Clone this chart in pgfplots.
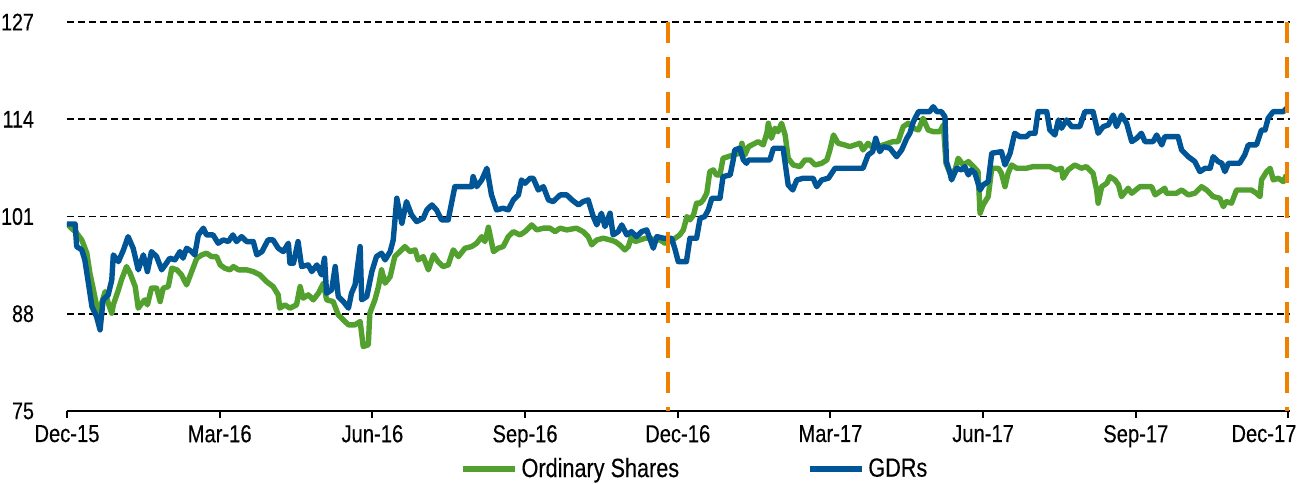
\documentclass[border=0pt]{standalone}
\usepackage{fontspec}
\setmainfont{Liberation Sans}[FakeStretch=0.82, FakeBold=0.3]
\usepackage{pgfplots}
\pgfplotsset{compat=1.18}
\definecolor{ordgreen}{RGB}{82,160,46}
\definecolor{gdrblue}{RGB}{0,85,150}
\definecolor{vorange}{RGB}{242,128,0}
\begin{document}
\begin{tikzpicture}
\useasboundingbox (-33.5pt,-36pt) rectangle (616pt,205.5pt);
\begin{axis}[
  scale only axis, width=611.5pt, height=194.5pt,
  xmin=0, xmax=24.03, ymin=75, ymax=127,
  axis x line*=bottom, axis y line*=left,
  y axis line style={draw=none},
  x axis line style={line width=1pt, black},
  xtick={0,3,...,24},
  xticklabels={Dec-15,Mar-16,Jun-16,Sep-16,Dec-16,Mar-17,Jun-17,Sep-17,{\hbox to 0pt{\hss Dec-17\kern-4pt}}},
  ytick={75,88,101,114,127},
  ytick style={draw=none},
  xtick style={black, line width=1pt},
  major tick length=3.5pt,
  tick align=outside,
  ymajorgrids,
  grid style={black, line width=0.9pt, dash pattern=on 3.5pt off 2pt},
  tick label style={font=\fontsize{12.3}{14}\selectfont, text=black},
  yticklabel style={font=\fontsize{12}{14}\selectfont, xshift=-9.5pt},
  /pgf/number format/assume math mode=true,
  legend columns=2,
  legend style={at={(axis description cs:0.3213,0)}, anchor=west, yshift=-29pt,
    draw=none, fill=none, inner sep=0pt,
    font=\fontsize{13.2}{15}\selectfont,
    /tikz/every even column/.append style={column sep=62pt}},
  legend image code/.code={\draw[#1, line width=2.6pt] (-2pt,0pt) -- (24pt,0pt);},
  every axis plot/.append style={line width=2.7pt, line join=round},
]
\addplot[ordgreen] coordinates {
(0,100) (0.19,98.77) (0.29,97.87) (0.39,96.10) (0.45,93.42) (0.52,91.19) (0.61,88.08) (0.68,89.42) (0.75,90.97) (0.81,89.42) (0.88,88.08) (0.91,89.19) (1.01,91.19) (1.07,92.53) (1.17,94.31) (1.24,93.42) (1.34,91.63) (1.40,88.75) (1.47,89.42) (1.53,89.86) (1.58,89.19) (1.66,91.42) (1.76,91.42) (1.83,89.63) (1.89,91.42) (1.99,91.63) (2.06,94.09) (2.16,93.87) (2.25,93.20) (2.35,91.86) (2.45,93.64) (2.55,95.43) (2.65,95.87) (2.74,96.10) (2.84,95.64) (2.94,95.64) (3.01,94.53) (3.10,94.09) (3.20,93.87) (3.27,94.31) (3.37,93.87) (3.53,93.87) (3.66,93.64) (3.79,93.20) (3.92,92.30) (4.05,91.63) (4.15,90.53) (4.18,88.75) (4.28,89.19) (4.38,88.75) (4.51,89.19) (4.58,91.63) (4.64,90.08) (4.74,90.53) (4.84,89.86) (4.94,90.75) (5.04,92.09) (5.10,89.86) (5.23,89.63) (5.33,87.85) (5.43,87.18) (5.53,86.52) (5.66,86.52) (5.76,86.96) (5.82,83.62) (5.92,83.84) (5.95,88.08) (6.05,89.86) (6.12,91.63) (6.18,93.87) (6.25,92.09) (6.35,92.97) (6.44,95.64) (6.54,96.31) (6.64,96.98) (6.74,96.31) (6.84,96.54) (6.90,95.20) (7.00,95.64) (7.10,93.87) (7.20,95.87) (7.29,94.97) (7.39,94.31) (7.49,94.53) (7.59,96.54) (7.69,95.64) (7.82,96.76) (7.95,96.98) (8.05,97.43) (8.15,98.31) (8.21,97.65) (8.28,99.57) (8.38,96.31) (8.47,96.76) (8.57,96.98) (8.67,98.31) (8.77,98.98) (8.90,98.54) (9.00,98.98) (9.10,99.65) (9.13,99.88) (9.23,99.21) (9.36,99.44) (9.49,99.44) (9.59,98.98) (9.69,99.44) (9.82,99.21) (10.01,99.44) (10.14,98.98) (10.24,98.31) (10.31,97.21) (10.41,97.87) (10.54,98.10) (10.67,97.87) (10.77,97.65) (10.86,97.21) (10.96,96.54) (11.03,96.98) (11.09,98.31) (11.16,97.65) (11.26,97.87) (11.36,98.10) (11.45,98.10) (11.55,97.87) (11.65,97.87) (11.75,97.43) (11.85,97.65) (11.95,98.10) (12.04,98.54) (12.11,99.21) (12.18,100.99) (12.24,100.55) (12.31,101.21) (12.37,102.78) (12.44,102.78) (12.50,103.22) (12.57,104.11) (12.63,107.00) (12.70,107.23) (12.76,106.56) (12.83,106.56) (12.89,108.79) (12.99,109.00) (13.09,109.23) (13.22,109.46) (13.26,110.79) (13.32,109.23) (13.39,110.34) (13.52,110.79) (13.58,111.01) (13.68,110.57) (13.75,112.13) (13.78,113.47) (13.84,111.46) (13.91,112.80) (13.97,112.34) (14.04,113.47) (14.11,111.90) (14.17,108.79) (14.27,107.89) (14.40,107.67) (14.50,108.56) (14.60,108.56) (14.70,107.89) (14.83,108.12) (14.93,108.56) (14.99,109.90) (15.06,111.90) (15.15,110.79) (15.28,110.57) (15.38,110.34) (15.48,110.57) (15.58,110.79) (15.64,109.90) (15.74,110.79) (15.84,110.13) (15.94,110.34) (16.04,110.57) (16.23,111.01) (16.33,111.01) (16.43,113.01) (16.53,113.47) (16.63,112.80) (16.73,112.57) (16.82,114.13) (16.92,112.57) (17.02,112.34) (17.15,112.34) (17.22,113.24) (17.27,108.12) (17.35,106.78) (17.45,107.23) (17.51,108.79) (17.61,107.89) (17.71,108.34) (17.84,107.45) (17.90,107.00) (17.94,101.44) (18.00,102.55) (18.10,103.66) (18.17,107.45) (18.30,107.45) (18.36,106.78) (18.43,104.99) (18.49,106.78) (18.56,107.89) (18.66,107.45) (18.85,107.45) (18.98,107.67) (19.12,107.67) (19.31,107.67) (19.44,107.23) (19.54,107.45) (19.57,106.12) (19.67,107.23) (19.80,107.89) (19.93,107.45) (20.03,107.67) (20.16,106.78) (20.23,104.55) (20.26,102.78) (20.33,104.99) (20.43,105.45) (20.49,106.33) (20.59,105.89) (20.66,105.22) (20.72,103.66) (20.85,104.78) (20.92,104.11) (21.08,104.99) (21.31,104.99) (21.38,103.89) (21.57,104.78) (21.60,104.11) (21.80,104.11) (21.90,104.55) (22.03,103.89) (22.16,104.11) (22.29,104.99) (22.39,104.55) (22.52,103.66) (22.65,103.44) (22.72,102.32) (22.78,102.99) (22.88,102.78) (22.98,104.55) (23.27,104.55) (23.37,104.11) (23.44,103.66) (23.47,105.89) (23.57,107.00) (23.64,107.45) (23.70,105.89) (23.80,106.12) (23.90,105.66) (23.96,106.56)
};
\addlegendentry{Ordinary Shares}
\addplot[gdrblue] coordinates {
(0,100) (0.16,100.00) (0.19,96.98) (0.29,96.54) (0.35,95.20) (0.42,92.13) (0.49,88.96) (0.58,87.63) (0.65,85.85) (0.71,89.86) (0.81,90.53) (0.88,92.53) (0.91,95.87) (1.01,94.97) (1.11,96.54) (1.20,98.31) (1.30,96.76) (1.40,93.87) (1.50,95.87) (1.58,93.64) (1.66,96.31) (1.76,95.64) (1.86,93.87) (1.93,94.53) (2.02,95.43) (2.12,95.20) (2.22,96.31) (2.28,95.43) (2.35,96.76) (2.45,96.31) (2.51,95.87) (2.58,98.54) (2.68,99.44) (2.74,98.54) (2.87,98.54) (2.97,97.43) (3.07,97.87) (3.17,97.65) (3.26,98.54) (3.33,97.65) (3.43,98.31) (3.53,97.65) (3.66,97.65) (3.73,95.87) (3.83,96.31) (3.95,97.87) (4.05,97.87) (4.15,96.76) (4.25,96.31) (4.35,97.43) (4.38,94.76) (4.45,94.76) (4.54,97.65) (4.61,94.31) (4.74,94.53) (4.81,93.64) (4.91,94.53) (5.00,93.20) (5.06,95.43) (5.10,90.75) (5.20,91.19) (5.27,94.31) (5.33,90.30) (5.43,89.63) (5.53,88.75) (5.59,90.75) (5.66,91.86) (5.76,96.98) (5.79,89.86) (5.89,90.30) (5.99,93.64) (6.08,95.64) (6.18,96.10) (6.25,95.20) (6.35,96.31) (6.41,97.87) (6.48,103.44) (6.58,100.10) (6.67,102.99) (6.77,101.21) (6.87,100.32) (7.00,100.77) (7.07,101.88) (7.17,102.55) (7.26,101.88) (7.36,100.55) (7.49,100.55) (7.62,104.99) (7.95,104.99) (7.98,106.33) (8.05,104.99) (8.15,105.89) (8.25,107.45) (8.34,103.89) (8.44,101.88) (8.57,102.11) (8.67,101.88) (8.77,103.22) (8.87,103.89) (8.93,105.89) (9.00,105.45) (9.10,106.12) (9.16,106.12) (9.26,104.55) (9.36,104.99) (9.46,103.22) (9.55,102.99) (9.69,103.89) (9.82,103.89) (9.92,103.22) (10.05,102.55) (10.14,102.99) (10.24,103.22) (10.34,100.99) (10.41,99.88) (10.50,101.44) (10.57,99.65) (10.67,101.44) (10.73,98.54) (10.83,98.98) (10.90,99.88) (11.00,98.54) (11.09,98.98) (11.19,98.31) (11.29,98.98) (11.39,99.21) (11.45,98.10) (11.52,96.76) (11.59,98.31) (11.72,98.10) (11.88,98.10) (11.95,96.54) (12.01,94.97) (12.17,94.97) (12.24,98.10) (12.37,98.10) (12.44,100.77) (12.53,100.99) (12.60,101.88) (12.67,103.44) (12.83,103.44) (12.89,106.33) (13.03,106.56) (13.09,108.56) (13.12,109.90) (13.22,110.13) (13.29,108.56) (13.35,108.12) (13.39,108.56) (13.81,108.56) (13.88,110.13) (14.07,110.13) (14.17,105.22) (14.26,104.55) (14.34,105.89) (14.47,106.12) (14.66,106.12) (14.73,104.99) (14.83,105.89) (14.96,106.12) (15.09,107.45) (15.64,107.45) (15.74,109.23) (15.83,109.67) (15.89,111.46) (15.97,109.67) (16.04,110.34) (16.17,110.13) (16.30,109.00) (16.40,109.90) (16.50,111.46) (16.56,112.13) (16.63,113.68) (16.73,115.02) (16.95,115.02) (17.02,115.68) (17.09,115.02) (17.18,115.02) (17.25,114.35) (17.28,108.34) (17.35,106.78) (17.38,105.89) (17.48,107.45) (17.58,107.23) (17.64,107.67) (17.71,106.56) (17.77,107.23) (17.84,106.78) (17.90,105.45) (17.94,104.55) (18.00,105.22) (18.10,105.66) (18.17,109.46) (18.36,109.67) (18.43,107.89) (18.53,109.46) (18.62,112.13) (18.72,111.68) (18.85,111.68) (18.92,112.13) (19.02,112.13) (19.08,115.02) (19.25,115.02) (19.31,112.57) (19.41,111.90) (19.48,113.91) (19.54,112.80) (19.64,113.91) (19.74,113.01) (19.90,113.01) (20.00,115.02) (20.16,115.02) (20.26,112.13) (20.36,113.01) (20.46,113.24) (20.56,114.57) (20.62,113.01) (20.72,114.57) (20.82,113.47) (20.92,111.01) (21.02,111.46) (21.11,112.13) (21.18,111.01) (21.34,111.01) (21.41,111.90) (21.51,110.57) (21.57,111.68) (21.83,111.68) (21.90,109.90) (22.03,109.00) (22.16,108.34) (22.26,107.00) (22.36,107.45) (22.46,107.45) (22.52,109.00) (22.62,108.34) (22.69,108.12) (22.75,107.00) (22.82,108.12) (23.04,108.12) (23.14,109.23) (23.21,110.57) (23.37,110.57) (23.47,112.57) (23.54,112.57) (23.60,114.13) (23.70,115.02) (23.90,115.02) (23.96,115.47)
};
\addlegendentry{GDRs}
\addplot[vorange, line width=2.4pt, dash pattern=on 10.3pt off 7.2pt, forget plot] coordinates {(11.81,127) (11.81,75)};
\addplot[vorange, line width=2.4pt, dash pattern=on 10.3pt off 7.2pt, forget plot] coordinates {(23.97,127) (23.97,75)};
\end{axis}
\end{tikzpicture}
\end{document}
